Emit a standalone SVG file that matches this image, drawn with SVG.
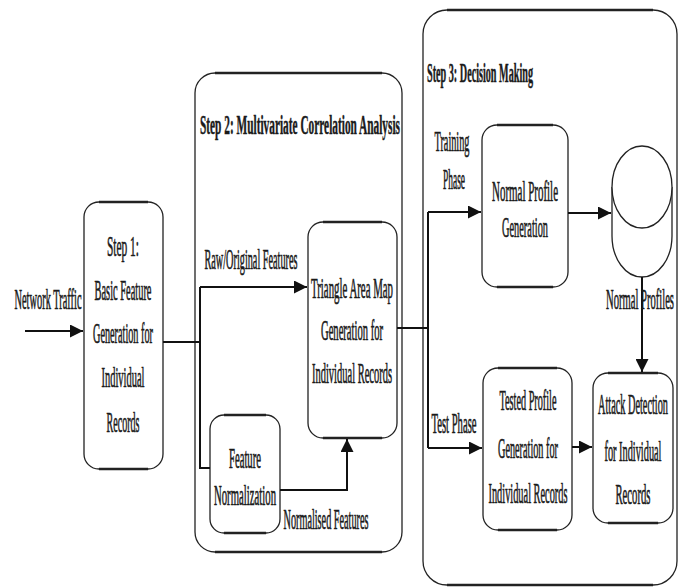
<svg xmlns="http://www.w3.org/2000/svg" width="681" height="588" viewBox="0 0 681 588">
<defs>
<marker id="ah" viewBox="0 0 10 10" refX="10" refY="5" markerWidth="13" markerHeight="13" markerUnits="userSpaceOnUse" orient="auto">
<path d="M0,0 L10,5 L0,10 z" fill="#111"/>
</marker>
</defs>
<style>
.box{fill:#fff;stroke:#222;stroke-width:1.3}
.edge{fill:none;stroke:#222;stroke-width:2.6}
.t{font-family:"Liberation Serif","Times New Roman",serif;font-size:30px;fill:#1a1a1a;stroke:#1a1a1a;stroke-width:0.7;text-anchor:middle}
.b{font-family:"Liberation Serif","Times New Roman",serif;font-size:27px;font-weight:bold;fill:#1a1a1a;stroke:#1a1a1a;stroke-width:0.5}
.c{fill:none;stroke:#111;stroke-width:2}
</style>
<rect width="681" height="588" fill="#fff"/>

<g id="step2">
<rect class="box" x="195" y="73" width="207" height="479" rx="20"/>
<path class="edge" d="M215,73 H382 M215,552 H382"/>
<g transform="scale(0.4,1)"><text class="b" x="500" y="134" textLength="500" lengthAdjust="spacingAndGlyphs">Step 2: Multivariate Correlation Analysis</text></g>
</g>

<g id="step3">
<rect class="box" x="423" y="10" width="254" height="575" rx="24"/>
<path class="edge" d="M447,10 H653 M447,585 H653"/>
<g transform="scale(0.4,1)"><text class="b" x="1067.5" y="82" textLength="265" lengthAdjust="spacingAndGlyphs">Step 3: Decision Making</text></g>
</g>

<g id="step1">
<rect class="box" x="84" y="202" width="79" height="267" rx="15"/>
<path class="edge" d="M99,202 H148 M99,469 H148"/>
<g transform="scale(0.4,1)">
<text class="t" x="307.5" y="256" textLength="80" lengthAdjust="spacingAndGlyphs">Step 1:</text>
<text class="t" x="307.5" y="300" textLength="142.5" lengthAdjust="spacingAndGlyphs">Basic Feature</text>
<text class="t" x="307.5" y="343" textLength="150" lengthAdjust="spacingAndGlyphs">Generation for</text>
<text class="t" x="307.5" y="387" textLength="107.5" lengthAdjust="spacingAndGlyphs">Individual</text>
<text class="t" x="307.5" y="432" textLength="82.5" lengthAdjust="spacingAndGlyphs">Records</text>
</g>
</g>

<g id="triangle">
<rect class="box" x="308" y="222" width="89" height="216" rx="15"/>
<path class="edge" d="M323,222 H382 M323,438 H382"/>
<g transform="scale(0.4,1)">
<text class="t" x="880" y="298" textLength="205" lengthAdjust="spacingAndGlyphs">Triangle Area Map</text>
<text class="t" x="880" y="340" textLength="155" lengthAdjust="spacingAndGlyphs">Generation for</text>
<text class="t" x="880" y="383" textLength="200" lengthAdjust="spacingAndGlyphs">Individual Records</text>
</g>
</g>

<g id="featnorm">
<rect class="box" x="210" y="415" width="70" height="118" rx="14"/>
<path class="edge" d="M224,415 H266 M224,533 H266"/>
<g transform="scale(0.4,1)">
<text class="t" x="612.5" y="468" textLength="80" lengthAdjust="spacingAndGlyphs">Feature</text>
<text class="t" x="612.5" y="505" textLength="155" lengthAdjust="spacingAndGlyphs">Normalization</text>
</g>
</g>

<g id="normalprofile">
<rect class="box" x="482" y="125" width="86" height="162" rx="15"/>
<path class="edge" d="M497,125 H553 M497,287 H553"/>
<g transform="scale(0.4,1)">
<text class="t" x="1312.5" y="201" textLength="165" lengthAdjust="spacingAndGlyphs">Normal Profile</text>
<text class="t" x="1312.5" y="237" textLength="115" lengthAdjust="spacingAndGlyphs">Generation</text>
</g>
</g>

<g id="db">
<path class="box" d="M612,187 V236 A30,41 0 0 0 672,236 V187" stroke-width="2"/>
<ellipse class="box" cx="642" cy="187" rx="30" ry="41" stroke-width="2"/>
</g>

<g id="tested">
<rect class="box" x="483" y="368" width="89" height="162" rx="15"/>
<path class="edge" d="M498,368 H557 M498,530 H557"/>
<g transform="scale(0.4,1)">
<text class="t" x="1320" y="410" textLength="142.5" lengthAdjust="spacingAndGlyphs">Tested Profile</text>
<text class="t" x="1320" y="458" textLength="150" lengthAdjust="spacingAndGlyphs">Generation for</text>
<text class="t" x="1320" y="503" textLength="197.5" lengthAdjust="spacingAndGlyphs">Individual Records</text>
</g>
</g>

<g id="attack">
<rect class="box" x="593" y="373" width="80" height="150" rx="15"/>
<path class="edge" d="M608,373 H658 M608,523 H658"/>
<g transform="scale(0.4,1)">
<text class="t" x="1582.5" y="414" textLength="175" lengthAdjust="spacingAndGlyphs">Attack Detection</text>
<text class="t" x="1582.5" y="461" textLength="142.5" lengthAdjust="spacingAndGlyphs">for Individual</text>
<text class="t" x="1582.5" y="504" textLength="87.5" lengthAdjust="spacingAndGlyphs">Records</text>
</g>
</g>

<g id="connectors">
<path class="c" d="M25,331 H83" marker-end="url(#ah)"/>
<path class="c" d="M163,342 H200"/>
<path class="c" d="M200,287 V468 H210"/>
<path class="c" d="M200,287 H307" marker-end="url(#ah)"/>
<path class="c" d="M280,490 H347 V439" marker-end="url(#ah)"/>
<path class="c" d="M397,328 H428"/>
<path class="c" d="M428,212 V448"/>
<path class="c" d="M428,212 H481" marker-end="url(#ah)"/>
<path class="c" d="M568,213 H611" marker-end="url(#ah)"/>
<path class="c" d="M642,277 V372" stroke-width="1.5" marker-end="url(#ah)"/>
<path class="c" d="M428,448 H482" marker-end="url(#ah)"/>
<path class="c" d="M572,447 H592" marker-end="url(#ah)"/>
</g>

<g id="labels" transform="scale(0.4,1)">
<text class="t" x="120" y="309" textLength="167.5" lengthAdjust="spacingAndGlyphs">Network Traffic</text>
<text class="t" x="627.5" y="269" textLength="232.5" lengthAdjust="spacingAndGlyphs">Raw/Original Features</text>
<text class="t" x="815" y="529" textLength="212.5" lengthAdjust="spacingAndGlyphs">Normalised Features</text>
<text class="t" x="1130" y="151" textLength="87.5" lengthAdjust="spacingAndGlyphs">Training</text>
<text class="t" x="1135" y="189" textLength="55" lengthAdjust="spacingAndGlyphs">Phase</text>
<text class="t" x="1600" y="309" textLength="170" lengthAdjust="spacingAndGlyphs">Normal Profiles</text>
<text class="t" x="1135" y="433" textLength="112.5" lengthAdjust="spacingAndGlyphs">Test Phase</text>
</g>
</svg>
